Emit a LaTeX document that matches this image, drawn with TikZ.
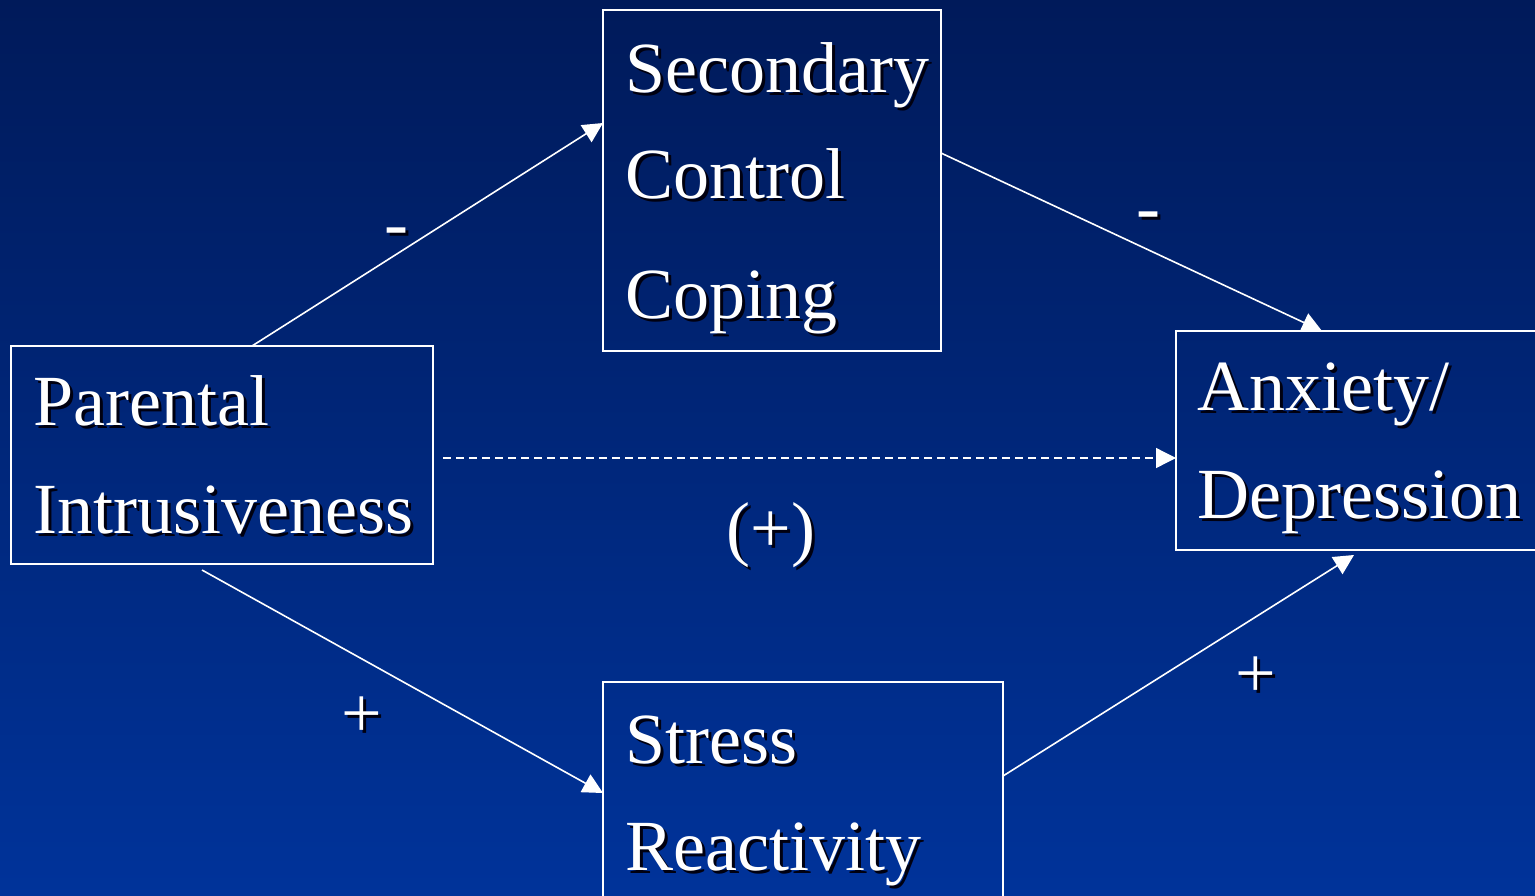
\documentclass[tikz,border=0pt]{standalone}
\usepackage{fontspec}
\setmainfont{Liberation Serif}
\usetikzlibrary{arrows.meta}
\definecolor{bgtop}{HTML}{001A5A}
\definecolor{bgbot}{HTML}{00339A}
\definecolor{shadowc}{HTML}{000010}
\newcommand\shtext[1]{\makebox[0pt][l]{\hspace{3pt}\raisebox{-3pt}{\color{shadowc}#1}}#1}
\tikzset{
  box/.style={draw=white, line width=1.6pt, inner sep=0pt},
  word/.style={text=white, inner sep=0pt, anchor=base west, font=\fontsize{72}{80}\selectfont},
  sign/.style={text=white, inner sep=0pt, font=\fontsize{72}{80}\selectfont},
  conn/.style={draw=white, line width=1.6pt, -{Triangle[length=20pt,width=20pt]}},
}
\begin{document}
\begin{tikzpicture}[x=1pt,y=-1pt]
\useasboundingbox (0,0) rectangle (1535,895);
\shade[top color=bgtop, bottom color=bgbot] (0,0) rectangle (1535,895);
\begin{scope}
\clip (0,0) rectangle (1535,895);
% boxes
\draw[box] (11,346) rectangle (433,564);
\coordinate (pTop) at (252,346);
\coordinate (pBot) at (202,570);
\coordinate (pRight) at (443,458);
\draw[box] (603,10) rectangle (941,351);
\coordinate (sLeft) at (603,123);
\coordinate (sRight) at (941,153);
\draw[box] (1176,331) rectangle (1545,550);
\coordinate (aTop) at (1322,331);
\coordinate (aLeft) at (1176,458);
\coordinate (aBot) at (1354,555);
\draw[box] (603,682) rectangle (1003,905);
\coordinate (rLeft) at (603,793);
\coordinate (rRight) at (1003,776);
\end{scope}
% texts
\node[word] (t1) at (33,425) {\shtext{Parental}};
\node[word] (t2) at (33,533) {\shtext{Intrusiveness}};
\node[word] (t3) at (625,92) {\shtext{Secondary}};
\node[word] (t4) at (625,198) {\shtext{Control}};
\node[word] (t5) at (625,318) {\shtext{Coping}};
\node[word] (t6) at (1197,410) {\shtext{Anxiety/}};
\node[word] (t7) at (1197,518) {\shtext{Depression}};
\node[word] (t8) at (625,763) {\shtext{Stress}};
\node[word] (t9) at (625,870) {\shtext{Reactivity}};
% connectors
\draw[conn] (pTop) -- (sLeft);
\draw[conn] (sRight) -- (aTop);
\draw[conn] (pBot) -- (rLeft);
\draw[conn] (rRight) -- (aBot);
\draw[conn, line width=1.3pt, dash pattern=on 8pt off 5pt] (pRight) -- (aLeft);
% signs
\node[sign] (s1) at (396,239) {\shtext{-}};
\node[sign] (s2) at (1148,223) {\shtext{-}};
\node[sign] (s3) at (362,719) {\shtext{+}};
\node[sign] (s4) at (1256,679) {\shtext{+}};
\node[sign] (s5) at (771,537) {\shtext{(+)}};
\end{tikzpicture}
\end{document}
